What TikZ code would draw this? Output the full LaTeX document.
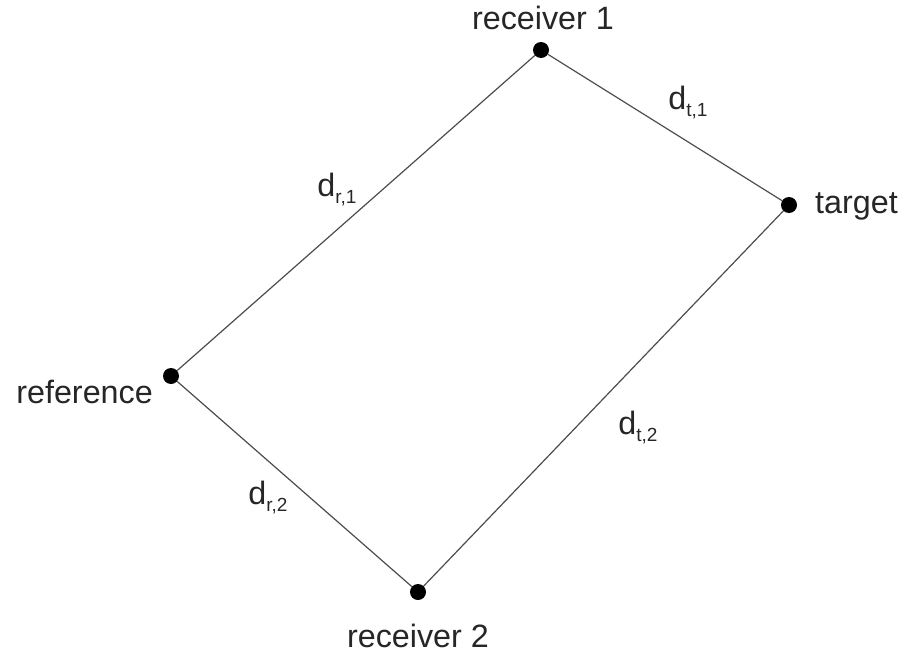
\documentclass[tikz,border=0pt]{standalone}
\usepackage{fontspec}
\setmainfont{Liberation Sans}
\newcommand{\dsub}[2]{d\raisebox{-7pt}{\fontsize{19}{19}\selectfont #1,#2}}
\begin{document}
\begin{tikzpicture}[x=1pt,y=-1pt,
  pt/.style={circle,fill=black,inner sep=0pt,minimum size=16pt},
  lbl/.style={font=\fontsize{32.3}{37}\selectfont,text=black!85,inner sep=0pt},
  edge/.style={draw=black!70,line width=1.2pt}]
\useasboundingbox (0,0) rectangle (911,656);
\node[pt] (r1) at (541,50) {};
\node[pt] (t) at (789,205) {};
\node[pt] (ref) at (171,376) {};
\node[pt] (r2) at (418,592) {};
\draw[edge] (ref) -- (r1);
\draw[edge] (r1) -- (t);
\draw[edge] (t) -- (r2);
\draw[edge] (r2) -- (ref);
\node[lbl] (lr1) at (543,18) {receiver 1};
\node[lbl,anchor=west] (lt) at (815,206) {target};
\node[lbl,anchor=east] (lref) at (153,392) {reference};
\node[lbl] (lr2) at (418,636) {receiver 2};
\node[lbl] (dr1) at (337,190) {\dsub{r}{1}};
\node[lbl] (dt1) at (688,103) {\dsub{t}{1}};
\node[lbl] (dt2) at (638,428) {\dsub{t}{2}};
\node[lbl] (dr2) at (268,498) {\dsub{r}{2}};
\end{tikzpicture}
\end{document}
